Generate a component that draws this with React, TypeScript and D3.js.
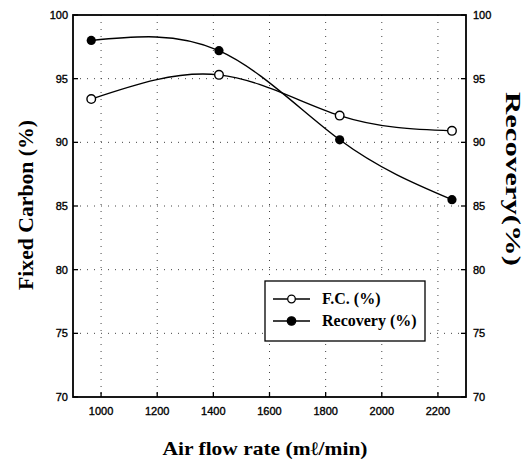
import React from 'react';
import * as d3 from 'd3';

const width = 528;
const height = 461;
const margin = { top: 15, right: 62, bottom: 64, left: 73 };

// air flow rate (ml/min)
const airFlow = [965, 1420, 1850, 2250];
// fixed carbon (%)
const fixedCarbon = [93.4, 95.3, 92.1, 90.9];
// recovery (%)
const recovery = [98.0, 97.2, 90.2, 85.5];

const xTicks = [1000, 1200, 1400, 1600, 1800, 2000, 2200];
const yTicks = [70, 75, 80, 85, 90, 95, 100];

const seriesNames = ['F.C. (%)', 'Recovery (%)'];

const sansFont = '"Liberation Sans", Arial, sans-serif';
const serifFont = '"Liberation Serif", "Times New Roman", serif';

export default function App() {
  const x = d3
    .scaleLinear()
    .domain([900, 2300])
    .range([margin.left, width - margin.right]);
  const y = d3
    .scaleLinear()
    .domain([70, 100])
    .range([height - margin.bottom, margin.top]);

  const line = d3
    .line<[number, number]>()
    .x(d => x(d[0]))
    .y(d => y(d[1]))
    .curve(d3.curveNatural);

  const fcPts = airFlow.map((a, i) => [a, fixedCarbon[i]] as [number, number]);
  const recPts = airFlow.map((a, i) => [a, recovery[i]] as [number, number]);

  const x0 = x.range()[0];
  const x1 = x.range()[1];
  const y0 = y.range()[0];
  const y1 = y.range()[1];

  // legend box
  const lg = { x: 265, y: 281, w: 160, h: 60 };

  return (
    <svg
      width={width}
      height={height}
      style={{ position: 'absolute', left: 0, top: 0, background: '#fff' }}
    >
      {/* dotted grid */}
      <g stroke="#444" strokeWidth={1} strokeDasharray="1,6">
        {xTicks.map(t => (
          <line key={'gx' + t} x1={x(t)} x2={x(t)} y1={y1} y2={y0} />
        ))}
        {yTicks.slice(1, -1).map(t => (
          <line key={'gy' + t} x1={x0} x2={x1} y1={y(t)} y2={y(t)} />
        ))}
      </g>

      {/* frame */}
      <rect
        x={x0}
        y={y1}
        width={x1 - x0}
        height={y0 - y1}
        fill="none"
        stroke="#000"
        strokeWidth={1.8}
      />

      {/* ticks, pointing inside */}
      <g stroke="#000" strokeWidth={1.3}>
        {xTicks.map(t => (
          <line key={'tx' + t} x1={x(t)} x2={x(t)} y1={y0} y2={y0 - 5} />
        ))}
        {yTicks.map(t => (
          <g key={'ty' + t}>
            <line x1={x0} x2={x0 + 5} y1={y(t)} y2={y(t)} />
            <line x1={x1} x2={x1 - 5} y1={y(t)} y2={y(t)} />
          </g>
        ))}
      </g>

      {/* tick labels */}
      <g fontFamily={sansFont} fontSize={11} fill="#000" stroke="#000" strokeWidth={0.35}>
        {xTicks.map(t => (
          <text key={'lx' + t} x={x(t)} y={415} textAnchor="middle">
            {t}
          </text>
        ))}
        {yTicks.map(t => (
          <text key={'ll' + t} x={x0 - 5} y={y(t) + 4} textAnchor="end">
            {t}
          </text>
        ))}
        {yTicks.map(t => (
          <text key={'lr' + t} x={x1 + 7} y={y(t) + 4} textAnchor="start">
            {t}
          </text>
        ))}
      </g>

      {/* series */}
      <path d={line(fcPts) || ''} fill="none" stroke="#000" strokeWidth={1.4} />
      <path d={line(recPts) || ''} fill="none" stroke="#000" strokeWidth={1.4} />
      {fcPts.map((d, i) => (
        <circle
          key={'fc' + i}
          cx={x(d[0])}
          cy={y(d[1])}
          r={4.3}
          fill="#fff"
          stroke="#000"
          strokeWidth={1.4}
        />
      ))}
      {recPts.map((d, i) => (
        <circle key={'rc' + i} cx={x(d[0])} cy={y(d[1])} r={4.6} fill="#000" />
      ))}

      {/* axis titles */}
      <g fontFamily={serifFont} fontWeight="bold" fill="#000">
        <text
          x={265}
          y={455}
          fontSize={19}
          textAnchor="middle"
          textLength={205}
          lengthAdjust="spacingAndGlyphs"
        >
          Air flow rate (mℓ/min)
        </text>
        <text
          transform="translate(33,205) rotate(-90)"
          fontSize={21}
          textAnchor="middle"
          textLength={170}
          lengthAdjust="spacingAndGlyphs"
        >
          Fixed Carbon (%)
        </text>
        <text
          transform="translate(506,179) rotate(90)"
          fontSize={22}
          textAnchor="middle"
          textLength={174}
          lengthAdjust="spacingAndGlyphs"
        >
          Recovery(%)
        </text>
      </g>

      {/* legend */}
      <g>
        <rect
          x={lg.x}
          y={lg.y}
          width={lg.w}
          height={lg.h}
          fill="#fff"
          stroke="#000"
          strokeWidth={1.3}
        />
        {seriesNames.map((name, i) => {
          const cy = lg.y + 18 + i * 22;
          return (
            <g key={name}>
              <line x1={273} x2={310} y1={cy} y2={cy} stroke="#000" strokeWidth={1.4} />
              <circle
                cx={291.5}
                cy={cy}
                r={i === 0 ? 3.8 : 4.2}
                fill={i === 0 ? '#fff' : '#000'}
                stroke="#000"
                strokeWidth={1.3}
              />
              <text
                x={322}
                y={cy + 5}
                fontFamily={serifFont}
                fontWeight="bold"
                fontSize={16}
              >
                {name}
              </text>
            </g>
          );
        })}
      </g>
    </svg>
  );
}
